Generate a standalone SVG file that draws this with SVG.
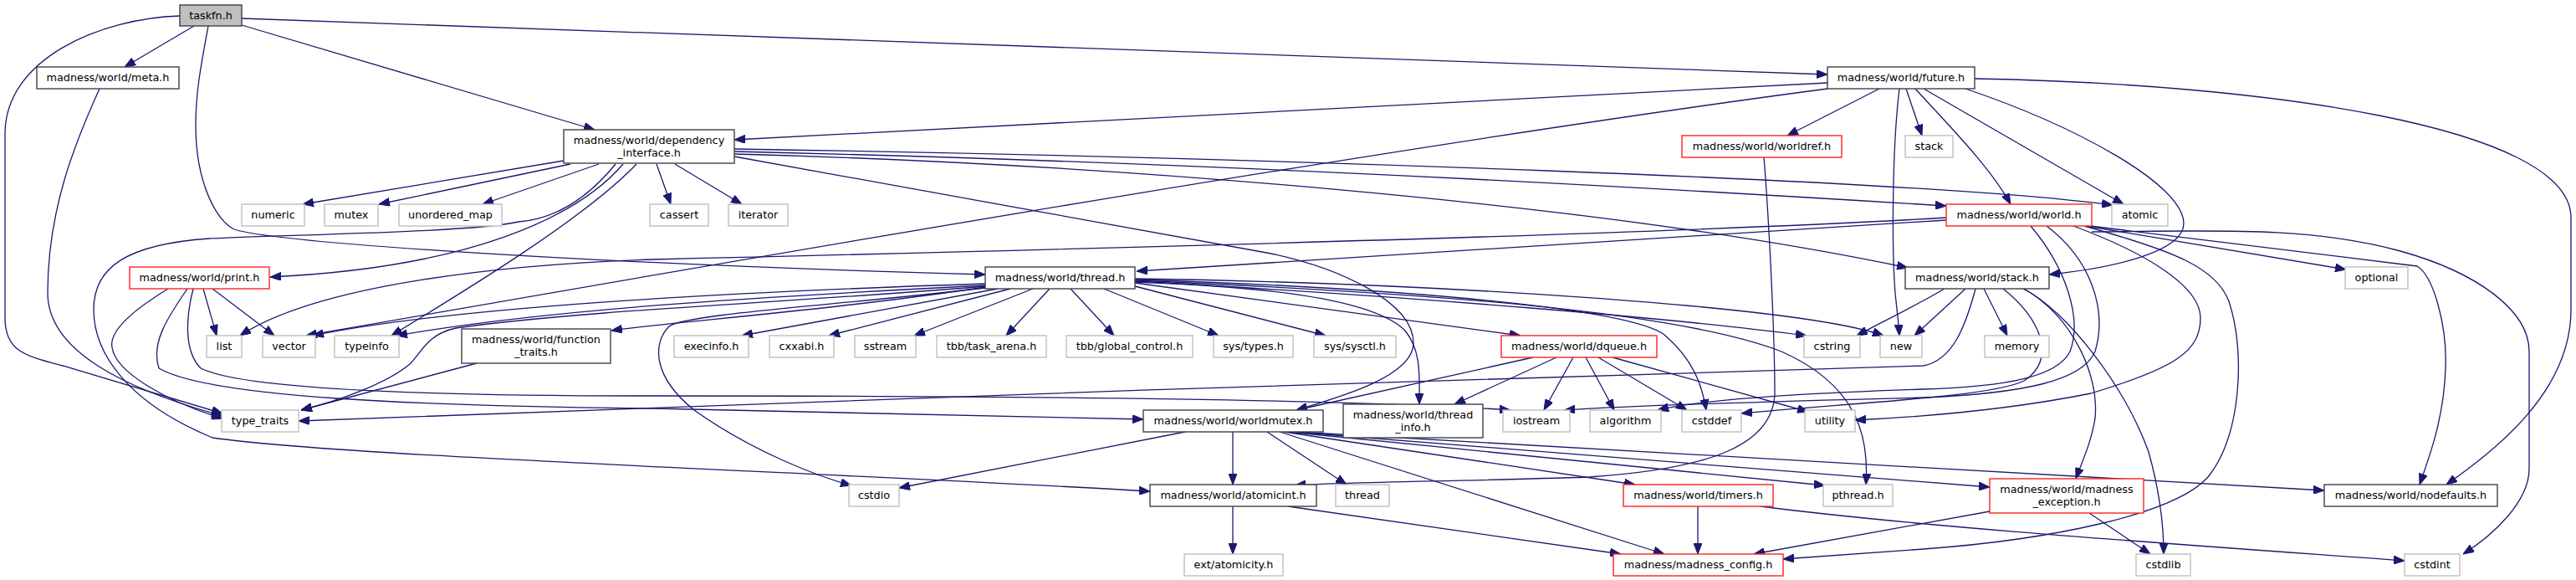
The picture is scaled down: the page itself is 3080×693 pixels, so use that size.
<svg xmlns="http://www.w3.org/2000/svg" width="3080" height="693" viewBox="0 0 3080 693">
<defs>
<marker id="a" viewBox="0 0 13 10" refX="13" refY="5" markerWidth="13" markerHeight="10" markerUnits="userSpaceOnUse" orient="auto">
<path d="M0,0 L13,5 L0,10 z" fill="#191970" stroke="#191970" stroke-width="1"/>
</marker>
</defs>
<style>
rect{fill:#fff;stroke-width:1.4}
.b rect{stroke:#404040}
.r rect{stroke:#ff2020}
.g rect{stroke:#bfbfbf}
text{font-family:"DejaVu Sans","Liberation Sans",sans-serif;font-size:12.8px;fill:#000;text-anchor:middle}
#edges path{fill:none;stroke:#191970;stroke-width:1.3;marker-end:url(#a)}
</style>
<rect x="0" y="0" width="3080" height="693" fill="#fff" stroke="none"/>
<g id="edges">
<path d="M232,31 L149,80"/>
<path d="M289,30 L711,155"/>
<path d="M289,22 L2185,89"/>
<path d="M215,19 C120,22 6,70 6,160 L6,380 C6,420 30,425 75,437 C150,460 220,480 266,494"/>
<path d="M119,106 C90,170 57,250 57,350 C57,420 150,465 266,497"/>
<path d="M249,31 C240,80 234,110 234,150 C234,220 260,265 280,274 C330,290 700,315 1178,328"/>
<path d="M2185,99 L878,167"/>
<path d="M2247,106 L2137,162"/>
<path d="M2279,106 L2298,162"/>
<path d="M2271,106 C2262,180 2262,300 2266,350 C2268,370 2270,385 2271,401"/>
<path d="M2290,106 C2330,150 2380,200 2404,244"/>
<path d="M2300,106 L2539,244"/>
<path d="M2350,106 C2480,150 2611,220 2611,267 C2611,300 2530,320 2450,328"/>
<path d="M2361,94 C2700,100 3074,150 3074,260 L3074,370 C3074,470 2980,540 2925,579"/>
<path d="M2185,106 C1700,170 1000,290 366,401"/>
<path d="M674,192 L362,244"/>
<path d="M682,196 L453,244"/>
<path d="M716,196 L577,244"/>
<path d="M785,196 L802,244"/>
<path d="M807,196 L887,244"/>
<path d="M745,196 C690,260 560,320 323,331"/>
<path d="M736,196 C700,240 660,262 620,265 C560,278 350,280 250,285 C150,292 112,320 112,370 C112,420 150,480 254,523 C400,545 1000,565 1375,587"/>
<path d="M761,196 C700,260 560,345 468,401"/>
<path d="M878,178 C1500,188 2300,215 2526,245"/>
<path d="M878,181 C1500,195 2100,232 2327,246"/>
<path d="M878,184 C1300,195 1900,240 2281,320"/>
<path d="M878,187 L1520,303 C1600,320 1690,360 1690,410 C1690,450 1600,475 1550,490"/>
<path d="M1193,345 L887,401"/>
<path d="M1208,345 L991,401"/>
<path d="M1235,345 L1093,401"/>
<path d="M1255,345 L1203,401"/>
<path d="M1280,345 L1332,401"/>
<path d="M1320,345 L1457,401"/>
<path d="M1357,342 L1585,401"/>
<path d="M1357,338 L1818,401"/>
<path d="M1357,336 C1700,355 2000,380 2160,401"/>
<path d="M1357,333 C1700,338 2150,365 2252,401"/>
<path d="M1357,334 C1700,345 1950,370 1990,400 C2025,430 2035,460 2040,490"/>
<path d="M1357,335 C1700,350 2000,370 2130,420 C2220,460 2235,520 2231,579"/>
<path d="M1357,337 C1500,342 1640,355 1680,395 C1700,420 1697,450 1697,483"/>
<path d="M1178,339 C900,348 550,365 374,401"/>
<path d="M1178,341 C900,355 650,370 474,401"/>
<path d="M1178,342 C1000,358 700,370 545,392 C510,400 505,420 490,435 C460,460 400,480 360,490"/>
<path d="M1178,343 C1000,370 800,385 731,395"/>
<path d="M1178,344 C1000,365 820,375 800,390 C780,410 780,450 830,490 C900,540 980,570 1018,580"/>
<path d="M570,434 L360,490"/>
<path d="M243,345 L259,401"/>
<path d="M254,345 L328,401"/>
<path d="M201,345 C160,370 130,395 134,415 C138,445 200,480 266,500"/>
<path d="M231,345 C222,380 220,420 240,440 C300,470 600,473 780,473 C1200,473 1600,476 1806,490"/>
<path d="M224,345 C200,380 180,410 190,440 C250,475 500,485 780,488 C1000,492 1200,497 1367,501"/>
<path d="M2327,263 L1359,324"/>
<path d="M2327,260 C2000,280 1200,300 780,310 C600,316 380,340 287,401"/>
<path d="M2494,270 L2805,322"/>
<path d="M2499,270 L2890,318 C2910,330 2926,390 2924,440 C2922,500 2905,545 2893,579"/>
<path d="M2501,277 C2650,276 2760,270 2870,300 C2960,325 3024,370 3024,420 L3024,560 C3024,600 2980,640 2945,662"/>
<path d="M2428,270 C2470,320 2490,380 2475,420 C2460,450 2400,462 2300,465 C2150,470 2030,478 1982,490"/>
<path d="M2447,270 C2500,310 2520,370 2505,420 C2490,455 2420,470 2300,475 C2100,480 1950,485 1870,490"/>
<path d="M2479,270 C2560,300 2631,340 2631,380 C2631,420 2600,440 2500,470 C2400,490 2300,498 2218,502"/>
<path d="M2492,270 C2600,300 2650,320 2665,360 C2685,420 2680,520 2640,570 C2600,615 2450,645 2300,656 L2132,668"/>
<path d="M2325,345 C2300,360 2250,385 2220,401"/>
<path d="M2350,345 L2289,401"/>
<path d="M2372,345 L2400,401"/>
<path d="M2362,345 C2350,390 2335,430 2300,437 C1800,450 800,485 357,503"/>
<path d="M2395,345 C2440,380 2460,430 2420,455 C2380,475 2200,482 2082,494"/>
<path d="M2420,345 C2480,380 2510,450 2505,500 C2500,530 2490,550 2482,572"/>
<path d="M2419,345 C2470,370 2540,460 2569,540 C2583,590 2587,630 2587,662"/>
<path d="M2109,188 C2115,260 2122,400 2122,470 C2120,530 2050,560 1900,570 C1750,575 1600,576 1548,580"/>
<path d="M1833,427 L1550,490"/>
<path d="M1861,427 L1739,483"/>
<path d="M1881,427 L1846,490"/>
<path d="M1896,427 L1930,490"/>
<path d="M1911,427 L2017,490"/>
<path d="M1928,427 L2162,492"/>
<path d="M1417,516 L1075,583"/>
<path d="M1474,516 L1474,579"/>
<path d="M1515,516 L1610,579"/>
<path d="M1535,516 L1955,579"/>
<path d="M1540,516 L2182,580"/>
<path d="M1545,516 L2379,582"/>
<path d="M1550,516 C1900,536 2300,562 2779,586"/>
<path d="M1530,516 L1990,662"/>
<path d="M1474,605 L1474,662"/>
<path d="M1540,605 L1938,662"/>
<path d="M2030,605 L2030,662"/>
<path d="M2105,605 C2300,630 2600,650 2875,670"/>
<path d="M2379,611 L2097,662"/>
<path d="M2498,613 L2571,662"/>
</g>
<g id="taskfn" class="b"><rect x="215" y="6" width="74" height="25" style="fill:#bfbfbf"/><text x="252" y="22.8">taskfn.h</text></g>
<g id="meta" class="b"><rect x="44" y="80" width="170" height="26"/><text x="129" y="97.3">madness/world/meta.h</text></g>
<g id="future" class="b"><rect x="2185" y="80" width="176" height="26"/><text x="2273" y="97.3">madness/world/future.h</text></g>
<g id="dependency_interface" class="b"><rect x="674" y="155" width="204" height="40"/><text x="776" y="172">madness/world/dependency</text><text x="776" y="187">_interface.h</text></g>
<g id="worldref" class="r"><rect x="2011" y="162" width="191" height="26"/><text x="2106.5" y="179.3">madness/world/worldref.h</text></g>
<g id="stack" class="g"><rect x="2278" y="162" width="57" height="26"/><text x="2306.5" y="179.3">stack</text></g>
<g id="numeric" class="g"><rect x="289" y="244" width="75" height="26"/><text x="326.5" y="261.3">numeric</text></g>
<g id="mutex" class="g"><rect x="388" y="244" width="64" height="26"/><text x="420" y="261.3">mutex</text></g>
<g id="unordered_map" class="g"><rect x="477" y="244" width="123" height="26"/><text x="538.5" y="261.3">unordered_map</text></g>
<g id="cassert" class="g"><rect x="777" y="244" width="70" height="26"/><text x="812" y="261.3">cassert</text></g>
<g id="iterator" class="g"><rect x="871" y="244" width="71" height="26"/><text x="906.5" y="261.3">iterator</text></g>
<g id="world" class="r"><rect x="2327" y="244" width="174" height="26"/><text x="2414" y="261.3">madness/world/world.h</text></g>
<g id="atomic" class="g"><rect x="2525" y="244" width="67" height="26"/><text x="2558.5" y="261.3">atomic</text></g>
<g id="print" class="r"><rect x="155" y="319" width="167" height="26"/><text x="238.5" y="336.3">madness/world/print.h</text></g>
<g id="thread_h" class="b"><rect x="1178" y="319" width="179" height="26"/><text x="1267.5" y="336.3">madness/world/thread.h</text></g>
<g id="stack_h" class="b"><rect x="2278" y="319" width="172" height="26"/><text x="2364" y="336.3">madness/world/stack.h</text></g>
<g id="optional" class="g"><rect x="2804" y="319" width="75" height="26"/><text x="2841.5" y="336.3">optional</text></g>
<g id="list" class="g"><rect x="247" y="401" width="42" height="26"/><text x="268" y="418.3">list</text></g>
<g id="vector" class="g"><rect x="314" y="401" width="63" height="26"/><text x="345.5" y="418.3">vector</text></g>
<g id="typeinfo" class="g"><rect x="400" y="401" width="77" height="26"/><text x="438.5" y="418.3">typeinfo</text></g>
<g id="function_traits" class="b"><rect x="552" y="393" width="178" height="41"/><text x="641" y="410">madness/world/function</text><text x="641" y="425">_traits.h</text></g>
<g id="execinfo" class="g"><rect x="806" y="401" width="89" height="26"/><text x="850.5" y="418.3">execinfo.h</text></g>
<g id="cxxabi" class="g"><rect x="920" y="401" width="77" height="26"/><text x="958.5" y="418.3">cxxabi.h</text></g>
<g id="sstream" class="g"><rect x="1022" y="401" width="73" height="26"/><text x="1058.5" y="418.3">sstream</text></g>
<g id="task_arena" class="g"><rect x="1120" y="401" width="131" height="26"/><text x="1185.5" y="418.3">tbb/task_arena.h</text></g>
<g id="global_control" class="g"><rect x="1275" y="401" width="151" height="26"/><text x="1350.5" y="418.3">tbb/global_control.h</text></g>
<g id="sys_types" class="g"><rect x="1451" y="401" width="95" height="26"/><text x="1498.5" y="418.3">sys/types.h</text></g>
<g id="sys_sysctl" class="g"><rect x="1571" y="401" width="98" height="26"/><text x="1620" y="418.3">sys/sysctl.h</text></g>
<g id="dqueue" class="r"><rect x="1795" y="401" width="186" height="26"/><text x="1888" y="418.3">madness/world/dqueue.h</text></g>
<g id="cstring" class="g"><rect x="2157" y="401" width="67" height="26"/><text x="2190.5" y="418.3">cstring</text></g>
<g id="new" class="g"><rect x="2248" y="401" width="50" height="26"/><text x="2273" y="418.3">new</text></g>
<g id="memory" class="g"><rect x="2373" y="401" width="77" height="26"/><text x="2411.5" y="418.3">memory</text></g>
<g id="type_traits" class="g"><rect x="265" y="490" width="92" height="26"/><text x="311" y="507.3">type_traits</text></g>
<g id="worldmutex" class="b"><rect x="1367" y="490" width="215" height="26"/><text x="1474.5" y="507.3">madness/world/worldmutex.h</text></g>
<g id="thread_info" class="b"><rect x="1606" y="483" width="167" height="40"/><text x="1689.5" y="499.5">madness/world/thread</text><text x="1689.5" y="514.5">_info.h</text></g>
<g id="iostream" class="g"><rect x="1797" y="490" width="80" height="26"/><text x="1837" y="507.3">iostream</text></g>
<g id="algorithm" class="g"><rect x="1901" y="490" width="85" height="26"/><text x="1943.5" y="507.3">algorithm</text></g>
<g id="cstddef" class="g"><rect x="2011" y="490" width="71" height="26"/><text x="2046.5" y="507.3">cstddef</text></g>
<g id="utility" class="g"><rect x="2158" y="490" width="60" height="26"/><text x="2188" y="507.3">utility</text></g>
<g id="cstdio" class="g"><rect x="1015" y="579" width="60" height="26"/><text x="1045" y="596.3">cstdio</text></g>
<g id="atomicint" class="b"><rect x="1375" y="579" width="199" height="26"/><text x="1474.5" y="596.3">madness/world/atomicint.h</text></g>
<g id="thread" class="g"><rect x="1597" y="579" width="64" height="26"/><text x="1629" y="596.3">thread</text></g>
<g id="timers" class="r"><rect x="1941" y="579" width="179" height="26"/><text x="2030.5" y="596.3">madness/world/timers.h</text></g>
<g id="pthread" class="g"><rect x="2180" y="579" width="83" height="26"/><text x="2221.5" y="596.3">pthread.h</text></g>
<g id="madness_exception" class="r"><rect x="2379" y="572" width="184" height="41"/><text x="2471" y="589">madness/world/madness</text><text x="2471" y="604">_exception.h</text></g>
<g id="nodefaults" class="b"><rect x="2779" y="579" width="207" height="26"/><text x="2882.5" y="596.3">madness/world/nodefaults.h</text></g>
<g id="ext_atomicity" class="g"><rect x="1416" y="662" width="118" height="26"/><text x="1475" y="679.3">ext/atomicity.h</text></g>
<g id="madness_config" class="r"><rect x="1929" y="662" width="203" height="26"/><text x="2030.5" y="679.3">madness/madness_config.h</text></g>
<g id="cstdlib" class="g"><rect x="2554" y="662" width="65" height="26"/><text x="2586.5" y="679.3">cstdlib</text></g>
<g id="cstdint" class="g"><rect x="2875" y="662" width="66" height="26"/><text x="2908" y="679.3">cstdint</text></g>
</svg>
